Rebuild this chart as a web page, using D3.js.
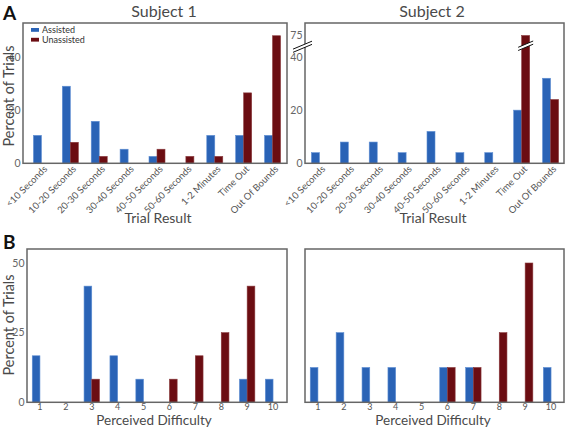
<!DOCTYPE html>
<html><head><meta charset="utf-8">
<script src="https://cdn.jsdelivr.net/npm/d3@7"></script>
<style>body{margin:0;background:#fff}svg{display:block}text{font-family:Lato,"Open Sans",sans-serif}</style>
</head><body>
<svg id="c" width="567" height="428"></svg>
<script>
const resultCats = ["<10 Seconds","10-20 Seconds","20-30 Seconds","30-40 Seconds","40-50 Seconds","50-60 Seconds","1-2 Minutes","Time Out","Out Of Bounds"];
const s1ResultAssisted   = [10.5, 29, 15.8, 5.3, 2.6, 0, 10.5, 10.5, 10.5];
const s1ResultUnassisted = [0, 7.9, 2.6, 0, 5.3, 2.6, 2.6, 26.5, 48];
const s2ResultAssisted   = [4, 8, 8, 4, 12, 4, 4, 20, 32];
const s2ResultUnassisted = [0, 0, 0, 0, 0, 0, 0, 75, 24];
const diffCats = ["1","2","3","4","5","6","7","8","9","10"];
const s1DiffAssisted   = [16.7, 0, 41.7, 16.7, 8.3, 0, 0, 0, 8.3, 8.3];
const s1DiffUnassisted = [0, 0, 8.3, 0, 0, 8.3, 16.7, 25, 41.7, 0];
const s2DiffAssisted   = [12.5, 25, 12.5, 12.5, 0, 12.5, 12.5, 0, 0, 12.5];
const s2DiffUnassisted = [0, 0, 0, 0, 0, 12.5, 12.5, 25, 50, 0];
const yTicksA1 = [0, 20, 40];
const yTicksA2 = [0, 20, 40, 75];
const yTicksB = [0, 25, 50];
const seriesNames = ["Assisted", "Unassisted"];

const BLUE = "#2a63b6", RED = "#6b0d12";
const svg = d3.select("#c");
const txtCol = "#4a4a4a";

function panel(o) {
  const g = svg.append("g");
  const x = d3.scaleBand().domain(o.cats).range([o.x0, o.x1]);
  const y = o.y;
  const bw = o.bw;
  const data = o.cats.map((c, i) => ({c, a: o.a[i], u: o.u[i]}));
  g.selectAll(".ba").data(data.filter(d => d.a > 0)).join("rect")
    .attr("x", d => x(d.c) + x.bandwidth()/2 - bw)
    .attr("width", bw)
    .attr("y", d => y(d.a)).attr("height", d => y(0) - y(d.a))
    .attr("fill", BLUE).attr("stroke", "#5f8fd3").attr("stroke-width", 0.6);
  g.selectAll(".bu").data(data.filter(d => d.u > 0)).join("rect")
    .attr("x", d => x(d.c) + x.bandwidth()/2)
    .attr("width", bw)
    .attr("y", d => y(d.u)).attr("height", d => y(0) - y(d.u))
    .attr("fill", RED).attr("stroke", "#8a3a3d").attr("stroke-width", 0.6);
  g.append("rect").attr("x", o.fx0).attr("y", o.top).attr("width", o.fx1 - o.fx0)
    .attr("height", y(0) - o.top).attr("fill", "none").attr("stroke", "#666").attr("stroke-width", 1.5);
  if (o.yticks) {
    g.selectAll(".yt").data(o.yticks).join("text")
      .attr("x", o.fx0 - 2.5).attr("y", d => y(d)).attr("dy", "0.35em")
      .attr("text-anchor", "end").attr("font-size", 10.5).attr("fill", "#666").text(d => d);
  }
  if (o.rotate) {
    g.selectAll(".xt").data(o.cats).join("text")
      .attr("transform", d => `translate(${x(d) + x.bandwidth()/2 + 4},${y(0) + 4}) rotate(-45)`)
      .attr("text-anchor", "end").attr("dy", "0.35em").attr("font-size", 9.5).attr("fill", "#555").text(d => d);
  } else {
    g.selectAll(".xt").data(o.cats).join("text")
      .attr("x", d => x(d) + x.bandwidth()/2).attr("y", y(0) + 7.4)
      .attr("text-anchor", "middle").attr("font-size", 9).attr("fill", "#555").text(d => d);
  }
  g.append("text").attr("x", o.titleX).attr("y", o.xtitleY).attr("text-anchor", "middle")
    .attr("font-size", o.xtitleSize).attr("fill", txtCol).text(o.xtitle);
  return {g, x, y};
}

const yA1 = d3.scaleLinear().domain([0, 40]).range([163.3, 57]);
panel({cats: resultCats, a: s1ResultAssisted, u: s1ResultUnassisted, x0: 27, x1: 287, fx0: 23, fx1: 287, top: 23,
  y: yA1, bw: 8, yticks: yTicksA1, rotate: true, xtitle: "Trial Result", titleX: 158, xtitleY: 223, xtitleSize: 14});
const yA2 = d3.scaleLinear().domain([0, 40, 75]).range([163.3, 57, 35.5]);
const pA2 = panel({cats: resultCats, a: s2ResultAssisted, u: s2ResultUnassisted, x0: 305, x1: 565, fx0: 305, fx1: 564, top: 23,
  y: yA2, bw: 8, yticks: yTicksA2, rotate: true, xtitle: "Trial Result", titleX: 433, xtitleY: 223, xtitleSize: 14});

function breakMark(cx, cy, w) {
  const h = w * 0.42;
  svg.append("path").attr("d", `M${cx - w/2},${cy + h/2 + 1.6}L${cx + w/2},${cy - h/2 + 1.6}L${cx + w/2},${cy - h/2 - 1.6}L${cx - w/2},${cy + h/2 - 1.6}Z`)
    .attr("fill", "#fff");
  [-1.6, 1.6].forEach(dy => svg.append("line")
    .attr("x1", cx - w/2).attr("y1", cy + h/2 + dy).attr("x2", cx + w/2).attr("y2", cy - h/2 + dy)
    .attr("stroke", "#111").attr("stroke-width", 1));
}
const breakY = (yA2(40) + yA2(75)) / 2 + 0.5;
breakMark(302.5, breakY, 19);
const toX = pA2.x("Time Out") + pA2.x.bandwidth()/2 + 4;
breakMark(toX, breakY - 1, 15);

const yB = d3.scaleLinear().domain([0, 50]).range([402.3, 263]);
panel({cats: diffCats, a: s1DiffAssisted, u: s1DiffUnassisted, x0: 27, x1: 286, fx0: 27, fx1: 287, top: 249,
  y: yB, bw: 7.7, yticks: yTicksB, rotate: false, xtitle: "Perceived Difficulty", titleX: 154, xtitleY: 425, xtitleSize: 13.5});
panel({cats: diffCats, a: s2DiffAssisted, u: s2DiffUnassisted, x0: 305, x1: 564, fx0: 305, fx1: 564, top: 249,
  y: yB, bw: 7.7, yticks: null, rotate: false, xtitle: "Perceived Difficulty", titleX: 433, xtitleY: 425, xtitleSize: 13.5});

svg.append("text").attr("x", 164).attr("y", 17).attr("text-anchor", "middle").attr("font-size", 16).attr("fill", txtCol).text("Subject 1");
svg.append("text").attr("x", 432).attr("y", 17).attr("text-anchor", "middle").attr("font-size", 16).attr("fill", txtCol).text("Subject 2");
svg.append("text").attr("x", 3).attr("y", 20).attr("font-size", 19).attr("font-weight", "bold").attr("font-family", "Liberation Sans, Arial").attr("fill", "#111").text("A");
svg.append("text").attr("x", 3).attr("y", 249).attr("font-size", 19).attr("font-weight", "bold").attr("font-family", "Liberation Sans, Arial").attr("fill", "#111").text("B");
[[96, "Percent of Trials"], [325, "Percent of Trials"]].forEach(([cy, t]) =>
  svg.append("text").attr("transform", `translate(14,${cy}) rotate(-90)`).attr("text-anchor", "middle")
    .attr("font-size", 14.5).attr("fill", txtCol).text(t));
const leg = svg.append("g");
seriesNames.forEach((n, i) => {
  leg.append("rect").attr("x", 31).attr("y", 28 + i * 9.8).attr("width", 8).attr("height", 3.8).attr("fill", i ? RED : BLUE);
  leg.append("text").attr("x", 42).attr("y", 33.3 + i * 9.8).attr("font-size", 9).attr("fill", "#333").text(n);
});
</script>
</body></html>
